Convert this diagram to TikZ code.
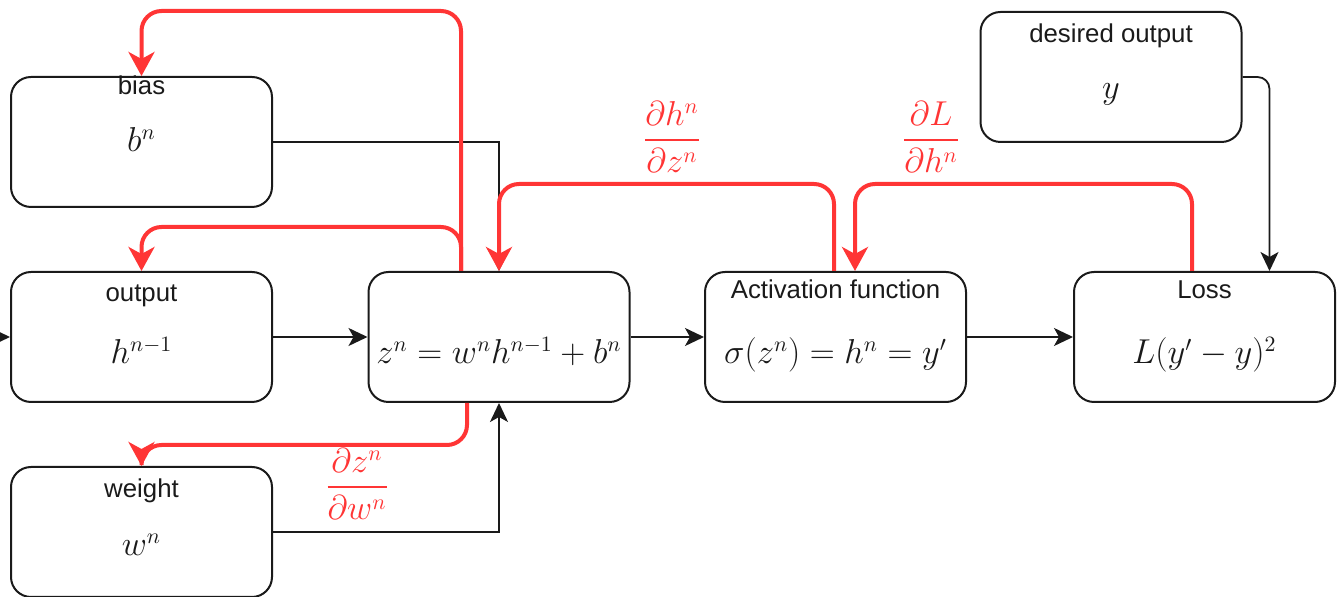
\documentclass[tikz,border=0pt]{standalone}
\usepackage{fontspec}
\setmainfont{Liberation Sans}
\usepackage{amsmath}
\usetikzlibrary{arrows.meta,calc}
\definecolor{bred}{HTML}{FF3535}
\definecolor{lineblk}{HTML}{1A1A1A}
\newcommand{\gfrac}[2]{\genfrac{}{}{1.1pt}{0}{#1}{#2}}
\begin{document}
\begin{tikzpicture}[x=0.5pt,y=-0.5pt,
  box/.style={draw=lineblk,line width=1pt,rounded corners=10pt,minimum width=130.5pt,minimum height=65pt,inner sep=0pt},
  lab/.style={font=\fontsize{12.9}{15}\selectfont,inner sep=0pt,anchor=base,text=lineblk},
  mth/.style={font=\fontsize{16}{19}\selectfont,inner sep=0pt,anchor=base,text=lineblk},
  conn/.style={line width=0.9pt,draw=lineblk,-{Stealth[length=9.5pt,width=9pt,inset=2.5pt]}},
  back/.style={line width=2pt,draw=bred,rounded corners=10pt,-{Stealth[length=12pt,width=13pt,inset=3.5pt]}},
  grad/.style={text=bred,font=\fontsize{16}{19}\selectfont,inner sep=0pt,anchor=base}]
\useasboundingbox (0,0) rectangle (1343,597);

% boxes
\node[box] (bias) at (141.5,142) {};
\node[box] (output) at (141.5,337) {};
\node[box] (weight) at (141.5,532) {};
\node[box] (z) at (499,337) {};
\node[box] (act) at (835.5,337) {};
\node[box] (loss) at (1204.5,337) {};
\node[box] (desired) at (1111,77) {};

% labels
\node[lab] (biasl) at (141.5,95) {bias};
\node[lab] (outputl) at (141.5,302) {output};
\node[lab] (weightl) at (141.5,498) {weight};
\node[lab] (actl) at (835.5,299) {Activation function};
\node[lab] (lossl) at (1204.5,299) {Loss};
\node[lab] (desiredl) at (1111,43) {desired output};

% math
\node[mth] (biasm) at (141.5,152) {$b^n$};
\node[mth] (outputm) at (141.5,364) {$h^{n-1}$};
\node[mth] (weightm) at (141.5,556) {$w^n$};
\node[mth] (zm) at (499,364) {$z^n = w^n h^{n-1} + b^n$};
\node[mth] (actm) at (835.5,364) {$\sigma(z^n) = h^n = y'$};
\node[mth] (lossm) at (1204.5,364) {$L(y'-y)^2$};
\node[mth] (desiredm) at (1111,99) {$y$};

% forward connectors
\coordinate (in) at (0,337);
\draw[conn] (in) -- (output.west);
\draw[conn] (output.east) -- (z.west);
\draw[conn] (bias.east) -| (z.north);
\draw[conn] (weight.east) -| (z.south);
\draw[conn] (z.east) -- (act.west);
\draw[conn] (act.east) -- (loss.west);
\draw[conn,rounded corners=6pt] (desired.east) -| ($(loss.north)+(65,0)$);

% backward (gradient) connectors
\draw[back] ($(z.north)+(-38,0)$) -- ++(0,-260) -| (bias.north);
\draw[back] ($(z.north)+(-38,0)$) -- ++(0,-44) -| (output.north);
\draw[back] ($(act.north)+(-1.5,0)$) -- ++(0,-87) -| (z.north);
\draw[back] ($(loss.north)+(-12.5,0)$) -- ++(0,-87) -| ($(act.north)+(19.5,0)$);
\draw[back] ($(z.south)+(-32,0)$) -- ++(0,42) -| (weight.north);

% gradient labels
\node[grad] (g1) at (672,149) {$\gfrac{\partial h^n}{\partial z^n}$};
\node[grad] (g2) at (931,149) {$\gfrac{\partial L}{\partial h^n}$};
\node[grad] (g3) at (357,496) {$\gfrac{\partial z^n}{\partial w^n}$};
\end{tikzpicture}
\end{document}
